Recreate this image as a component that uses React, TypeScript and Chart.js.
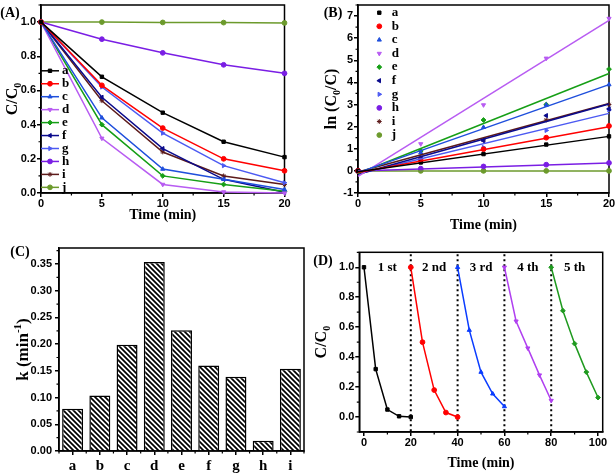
import React, { useEffect, useRef } from 'react';
import { Chart, registerables } from 'chart.js';
import { drawPoint } from 'chart.js/helpers';
Chart.register(...registerables);

// ---------- Panel A: C/C0 vs time ----------
const timeMin = [0, 5, 10, 15, 20];
const seriesNames = ['a', 'b', 'c', 'd', 'e', 'f', 'g', 'h', 'i', 'j'];
const ratioA = [1, 0.68, 0.47, 0.3, 0.21];
const ratioB = [1, 0.63, 0.38, 0.2, 0.13];
const ratioC = [1, 0.44, 0.14, 0.08, 0.02];
const ratioD = [1, 0.32, 0.05, 0.006, 0.0];
const ratioE = [1, 0.4, 0.1, 0.05, 0.01];
const ratioF = [1, 0.56, 0.26, 0.08, 0.004];
const ratioG = [1, 0.62, 0.35, 0.16, 0.06];
const ratioH = [1, 0.9, 0.82, 0.75, 0.7];
const ratioI = [1, 0.54, 0.24, 0.1, 0.05];
const ratioJ = [1, 1.0, 0.998, 0.997, 0.995];
const ratioSeries = [ratioA, ratioB, ratioC, ratioD, ratioE, ratioF, ratioG, ratioH, ratioI, ratioJ];
const aXTicks = [0, 5, 10, 15, 20];
const aYTicks = [0, 0.2, 0.4, 0.6, 0.8, 1.0];

// ---------- Panel B: ln(C0/C) ----------
const lnA = [0, 0.38, 0.76, 1.19, 1.56];
const lnB = [0, 0.47, 0.98, 1.5, 2.03];
const lnC = [0, 0.82, 1.97, 2.98, 3.9];
const lnD = [0, 1.22, 2.98, 5.09, 6.89];
const lnE = [0, 0.9, 2.3, 3.0, 4.6];
const lnF = [0, 0.58, 1.36, 2.5, 2.8];
const lnG = [0, 0.48, 1.06, 1.83, 2.76];
const lnH = [0, 0.1, 0.2, 0.28, 0.36];
const lnI = [0, 0.62, 1.4, 2.3, 3.0];
const lnJ = [0, 0, 0, 0, 0];
const lnSeries = [lnA, lnB, lnC, lnD, lnE, lnF, lnG, lnH, lnI, lnJ];
const fitX = [0, 20];
const fitStart = [-0.04, -0.07, -0.08, -0.25, -0.12, -0.15, -0.14, 0.0, -0.05, 0.0];
const fitEnd = [1.56, 2.0, 3.9, 6.8, 4.4, 3.02, 2.6, 0.36, 3.05, 0.0];
const bXTicks = [0, 5, 10, 15, 20];
const bYTicks = [-1, 0, 1, 2, 3, 4, 5, 6, 7];

// ---------- Panel C: rate constants ----------
const kCategories = ['a', 'b', 'c', 'd', 'e', 'f', 'g', 'h', 'i'];
const kValues = [0.079, 0.104, 0.199, 0.354, 0.226, 0.16, 0.139, 0.019, 0.154];
const cYTicks = [0, 0.05, 0.1, 0.15, 0.2, 0.25, 0.3, 0.35];

// ---------- Panel D: recycling ----------
const cycleLabels = ['1 st', '2 nd', '3 rd', '4 th', '5 th'];
const cycleLabelX = [10, 30, 50, 70, 90];
const cycleBounds = [20, 40, 60, 80];
const run1Time = [0, 5, 10, 15, 20];
const run1Ratio = [1.0, 0.32, 0.05, 0.005, 0.0];
const run2Time = [20, 25, 30, 35, 40];
const run2Ratio = [1.0, 0.5, 0.18, 0.03, 0.0];
const run3Time = [40, 45, 50, 55, 60];
const run3Ratio = [1.0, 0.58, 0.3, 0.155, 0.07];
const run4Time = [60, 65, 70, 75, 80];
const run4Ratio = [1.0, 0.64, 0.46, 0.28, 0.11];
const run5Time = [80, 85, 90, 95, 100];
const run5Ratio = [1.0, 0.71, 0.49, 0.3, 0.13];
const runTimes = [run1Time, run2Time, run3Time, run4Time, run5Time];
const runRatios = [run1Ratio, run2Ratio, run3Ratio, run4Ratio, run5Ratio];
const dXTicks = [0, 20, 40, 60, 80, 100];
const dYTicks = [0, 0.2, 0.4, 0.6, 0.8, 1.0];

// ---------- styles ----------
const seriesColors = ['#000000', '#ff0000', '#1f4fdc', '#b85cf2', '#169f16', '#0a0a8c', '#4c5af2', '#7a1ee4', '#5c1a1a', '#6c9a2c'];
const seriesStyles = ['rect', 'circle', 'triangle', 'triangle', 'rectRot', 'triangle', 'triangle', 'circle', 'star', 'circle'];
const seriesRot = [0, 0, 0, 180, 0, 270, 90, 0, 0, 0];
const runColors = ['#000000', '#ff0000', '#0a3cff', '#b040f0', '#1f9a1f'];
const runStyles = ['rect', 'circle', 'triangle', 'triangle', 'rectRot'];
const runRot = [0, 0, 0, 180, 0];
const MARK_R = 2.4;

const SERIF = '"Liberation Serif", "Times New Roman", serif';
const SANS = '"Liberation Sans", Arial, sans-serif';
const tickFont = { family: SANS, size: 11, weight: 'bold' as const };

type Seg = { t: string; k?: 'sub' | 'sup' };

function drawRich(ctx: CanvasRenderingContext2D, segs: Seg[], cx: number, cy: number, size: number, rotate: boolean) {
  ctx.save();
  ctx.translate(cx, cy);
  if (rotate) ctx.rotate(-Math.PI / 2);
  const main = `bold ${size}px ${SERIF}`;
  const small = `bold ${Math.round(size * 0.65)}px ${SERIF}`;
  let total = 0;
  const widths = segs.map((s) => {
    ctx.font = s.k ? small : main;
    const w = ctx.measureText(s.t).width;
    total += w;
    return w;
  });
  let x = -total / 2;
  ctx.textAlign = 'left';
  ctx.textBaseline = 'alphabetic';
  ctx.fillStyle = '#000';
  const base = size * 0.34;
  segs.forEach((s, i) => {
    ctx.font = s.k ? small : main;
    const dy = s.k === 'sub' ? size * 0.22 : s.k === 'sup' ? -size * 0.42 : 0;
    ctx.fillText(s.t, x, base + dy);
    x += widths[i];
  });
  ctx.restore();
}

function linAxis(min: number, max: number, ticks: number[], fmt: (v: number) => string, size: number, horizontal: boolean, pad: number) {
  return {
    type: 'linear' as const,
    position: horizontal ? 'bottom' : 'left',
    min,
    max,
    afterBuildTicks: (s: any) => {
      s.ticks = ticks.map((v) => ({ value: v }));
    },
    afterFit: (s: any) => {
      if (horizontal) {
        s.height = size;
        s.paddingLeft = 0;
        s.paddingRight = 0;
      } else {
        s.width = size;
        s.paddingTop = 0;
        s.paddingBottom = 0;
      }
    },
    grid: { display: true, drawOnChartArea: false, drawTicks: true, tickLength: 4, color: '#000', lineWidth: 1.5 },
    border: { display: true, color: '#000', width: 1.5 },
    ticks: { color: '#000', font: tickFont, padding: pad, autoSkip: false, maxRotation: 0, callback: (v: any) => fmt(Number(v)) },
  };
}

function frameAndMinor(chart: any) {
  const ctx: CanvasRenderingContext2D = chart.ctx;
  const a = chart.chartArea;
  ctx.save();
  ctx.strokeStyle = '#000';
  ctx.lineWidth = 1.5;
  ctx.strokeRect(a.left, a.top, a.right - a.left, a.bottom - a.top);
  ctx.lineWidth = 1.2;
  for (const id of ['x', 'y']) {
    const sc = chart.scales[id];
    const px: number[] = sc.ticks.map((t: any) => sc.getPixelForValue(t.value));
    if (px.length < 2) continue;
    const step = px[1] - px[0];
    const mins: number[] = [];
    for (let p = px[0] - step / 2; ; p += step) {
      const inside = id === 'x' ? p >= a.left - 0.5 && p <= a.right + 0.5 : p <= a.bottom + 0.5 && p >= a.top - 0.5;
      if (!inside) {
        if (id === 'x' ? p > a.right : p < a.top) break;
        continue;
      }
      mins.push(p);
    }
    ctx.beginPath();
    for (const p of mins) {
      if (id === 'x') {
        ctx.moveTo(p, a.bottom);
        ctx.lineTo(p, a.bottom + 2.5);
      } else {
        ctx.moveTo(a.left - 2.5, p);
        ctx.lineTo(a.left, p);
      }
    }
    ctx.stroke();
  }
  ctx.restore();
}

function drawLabel(ctx: CanvasRenderingContext2D, text: string, x: number, y: number, size: number, align: CanvasTextAlign = 'center') {
  ctx.save();
  ctx.font = `bold ${size}px ${SERIF}`;
  ctx.fillStyle = '#000';
  ctx.textAlign = align;
  ctx.textBaseline = 'middle';
  ctx.fillText(text, x, y);
  ctx.restore();
}

function marker(ctx: CanvasRenderingContext2D, style: string, rot: number, color: string, x: number, y: number, r: number) {
  ctx.save();
  ctx.fillStyle = color;
  ctx.strokeStyle = color;
  ctx.lineWidth = 1;
  drawPoint(ctx, { pointStyle: style as any, rotation: rot, radius: r, borderWidth: 1 }, x, y);
  ctx.restore();
}

function makeA(): any {
  const datasets = seriesNames.map((n, i) => ({
    label: n,
    data: timeMin.map((t, j) => ({ x: t, y: ratioSeries[i][j] })),
    borderColor: seriesColors[i],
    backgroundColor: seriesColors[i],
    borderWidth: 1.5,
    pointStyle: seriesStyles[i],
    pointRotation: seriesRot[i],
    pointRadius: MARK_R,
    pointBorderWidth: 1,
    clip: false,
  }));
  return {
    type: 'line',
    data: { datasets },
    options: {
      animation: false,
      responsive: false,
      devicePixelRatio: 1,
      layout: { padding: { left: 0, top: 1.5, right: 21.5, bottom: 0 } },
      plugins: { legend: { display: false }, tooltip: { enabled: false } },
      scales: {
        x: linAxis(0, 20, aXTicks, (v) => String(v), 44, true, 0),
        y: linAxis(0, 1.1, aYTicks, (v) => v.toFixed(1), 41, false, 1),
      },
    },
    plugins: [
      {
        id: 'decoA',
        beforeDatasetsDraw: frameAndMinor,
        afterDraw(chart: any) {
          const ctx = chart.ctx;
          const a = chart.chartArea;
          drawLabel(ctx, '(A)', 10, 13, 14);
          drawLabel(ctx, 'Time (min)', (a.left + a.right) / 2, 215, 14);
          drawRich(ctx, [{ t: 'C/C' }, { t: '0', k: 'sub' }], 12, (a.top + a.bottom) / 2, 16, true);
          seriesNames.forEach((n, i) => {
            const y = 70.8 + i * 12.95;
            ctx.save();
            ctx.strokeStyle = seriesColors[i];
            ctx.lineWidth = 1.5;
            ctx.beginPath();
            ctx.moveTo(a.left, y);
            ctx.lineTo(a.left + 18, y);
            ctx.stroke();
            ctx.restore();
            marker(ctx, seriesStyles[i], seriesRot[i], seriesColors[i], a.left + 9, y, MARK_R);
            drawLabel(ctx, n, a.left + 21, y, 13, 'left');
          });
        },
      },
    ],
  };
}

function makeB(): any {
  const datasets: any[] = [];
  seriesNames.forEach((n, i) => {
    datasets.push({
      label: n + ' fit',
      data: fitX.map((t, j) => ({ x: t, y: j === 0 ? fitStart[i] : fitEnd[i] })),
      borderColor: seriesColors[i],
      backgroundColor: seriesColors[i],
      borderWidth: 1.5,
      pointRadius: 0,
      clip: false,
    });
  });
  seriesNames.forEach((n, i) => {
    datasets.push({
      label: n,
      data: timeMin.map((t, j) => ({ x: t, y: lnSeries[i][j] })),
      borderColor: seriesColors[i],
      backgroundColor: seriesColors[i],
      showLine: false,
      pointStyle: seriesStyles[i],
      pointRotation: seriesRot[i],
      pointRadius: MARK_R,
      pointBorderWidth: 1,
      clip: false,
    });
  });
  return {
    type: 'line',
    data: { datasets },
    options: {
      animation: false,
      responsive: false,
      devicePixelRatio: 1,
      layout: { padding: { left: 0, top: 1.5, right: 7, bottom: 0 } },
      plugins: { legend: { display: false }, tooltip: { enabled: false } },
      scales: {
        x: linAxis(0, 20, bXTicks, (v) => String(v), 44, true, 0),
        y: linAxis(-1, 7.5, bYTicks, (v) => String(v), 52, false, 1),
      },
    },
    plugins: [
      {
        id: 'decoB',
        beforeDatasetsDraw: frameAndMinor,
        afterDraw(chart: any) {
          const ctx = chart.ctx;
          const a = chart.chartArea;
          drawLabel(ctx, '(B)', 27, 13, 14);
          drawLabel(ctx, 'Time (min)', (a.left + a.right) / 2, 225, 14);
          drawRich(ctx, [{ t: 'ln (C' }, { t: '0', k: 'sub' }, { t: '/C)' }], 25, (a.top + a.bottom) / 2, 16, true);
          seriesNames.forEach((n, i) => {
            const y = 12.7 + i * 13.6;
            marker(ctx, seriesStyles[i], seriesRot[i], seriesColors[i], 73.3, y, MARK_R);
            drawLabel(ctx, n, 85.7, y, 13, 'left');
          });
        },
      },
    ],
  };
}

function makeHatch(): CanvasPattern | string {
  const s = 5;
  const c = document.createElement('canvas');
  c.width = s;
  c.height = s;
  const g = c.getContext('2d');
  if (!g) return '#fff';
  g.fillStyle = '#fff';
  g.fillRect(0, 0, s, s);
  g.strokeStyle = '#000';
  g.lineWidth = 1.7;
  g.beginPath();
  g.moveTo(-1, -1);
  g.lineTo(s + 1, s + 1);
  g.moveTo(-1, s - 1);
  g.lineTo(1, s + 1);
  g.moveTo(s - 1, -1);
  g.lineTo(s + 1, 1);
  g.stroke();
  const p = g.createPattern(c, 'repeat');
  return p || '#fff';
}

function makeC(): any {
  const hatch = makeHatch();
  return {
    type: 'bar',
    data: {
      labels: kCategories,
      datasets: [
        {
          label: 'k',
          data: kValues,
          backgroundColor: hatch,
          borderColor: '#000',
          borderWidth: 1.5,
          categoryPercentage: 1,
          barPercentage: 0.77,
        },
      ],
    },
    options: {
      animation: false,
      responsive: false,
      devicePixelRatio: 1,
      layout: { padding: { left: 0, top: 11, right: 2, bottom: 0 } },
      plugins: { legend: { display: false }, tooltip: { enabled: false } },
      scales: {
        x: {
          type: 'category',
          offset: true,
          afterFit: (s: any) => {
            s.height = 24;
            s.paddingLeft = 0;
            s.paddingRight = 0;
          },
          grid: { display: true, offset: false, drawOnChartArea: false, drawTicks: true, tickLength: 4, color: '#000', lineWidth: 1.5 },
          border: { display: true, color: '#000', width: 1.5 },
          ticks: { color: '#000', font: { family: SERIF, size: 15, weight: 'bold' }, padding: 2, autoSkip: false, maxRotation: 0 },
        },
        y: linAxis(0, 0.38, cYTicks, (v) => v.toFixed(2), 59, false, 3),
      },
    },
    plugins: [
      {
        id: 'decoC',
        beforeDatasetsDraw: frameAndMinor,
        afterDraw(chart: any) {
          const ctx = chart.ctx;
          const a = chart.chartArea;
          drawLabel(ctx, '(C)', 20, 15.7, 14);
          drawRich(ctx, [{ t: 'k (min' }, { t: '-1', k: 'sup' }, { t: ')' }], 22, (a.top + a.bottom) / 2, 17, true);
        },
      },
    ],
  };
}

function makeD(): any {
  const datasets = runTimes.map((times, i) => ({
    label: cycleLabels[i],
    data: times.map((t, j) => ({ x: t, y: runRatios[i][j] })),
    borderColor: runColors[i],
    backgroundColor: runColors[i],
    borderWidth: 1.5,
    pointStyle: runStyles[i],
    pointRotation: runRot[i],
    pointRadius: MARK_R,
    pointBorderWidth: 1,
    clip: false,
  }));
  return {
    type: 'line',
    data: { datasets },
    options: {
      animation: false,
      responsive: false,
      devicePixelRatio: 1,
      layout: { padding: { left: 0, top: 15.3, right: 13.3, bottom: 0 } },
      plugins: { legend: { display: false }, tooltip: { enabled: false } },
      scales: {
        x: linAxis(-2, 102, dXTicks, (v) => String(v), 43, true, 0),
        y: linAxis(-0.1, 1.1, dYTicks, (v) => v.toFixed(1), 53.3, false, 1),
      },
    },
    plugins: [
      {
        id: 'decoD',
        beforeDatasetsDraw(chart: any) {
          frameAndMinor(chart);
          const ctx = chart.ctx;
          const a = chart.chartArea;
          const xs = chart.scales.x;
          ctx.save();
          ctx.strokeStyle = '#000';
          ctx.lineWidth = 2;
          ctx.setLineDash([2, 3]);
          for (const b of cycleBounds) {
            const px = xs.getPixelForValue(b);
            ctx.beginPath();
            ctx.moveTo(px, a.top + 2);
            ctx.lineTo(px, a.bottom);
            ctx.stroke();
          }
          ctx.restore();
        },
        afterDraw(chart: any) {
          const ctx = chart.ctx;
          const a = chart.chartArea;
          const xs = chart.scales.x;
          const ys = chart.scales.y;
          drawLabel(ctx, '(D)', 17, 24, 14);
          drawLabel(ctx, 'Time (min)', (a.left + a.right) / 2, 226.7, 14);
          drawRich(ctx, [{ t: 'C/C' }, { t: '0', k: 'sub' }], 15, (a.top + a.bottom) / 2, 16, true);
          cycleLabels.forEach((l, i) => {
            drawLabel(ctx, l, xs.getPixelForValue(cycleLabelX[i]), ys.getPixelForValue(1.0), 13);
          });
        },
      },
    ],
  };
}

function Panel({ left, top, width, height, make }: { left: number; top: number; width: number; height: number; make: () => any }) {
  const ref = useRef<HTMLCanvasElement>(null);
  useEffect(() => {
    const chart = new Chart(ref.current as HTMLCanvasElement, make());
    return () => chart.destroy();
  }, []);
  return <canvas ref={ref} width={width} height={height} style={{ position: 'absolute', left, top, width, height }} />;
}

export default function App() {
  return (
    <div style={{ position: 'fixed', left: 0, top: 0, width: 616, height: 475, background: '#fff', overflow: 'hidden' }}>
      <Panel left={0} top={0} width={306} height={237} make={makeA} />
      <Panel left={306} top={0} width={310} height={237} make={makeB} />
      <Panel left={0} top={237} width={306} height={238} make={makeC} />
      <Panel left={306} top={237} width={310} height={238} make={makeD} />
    </div>
  );
}
